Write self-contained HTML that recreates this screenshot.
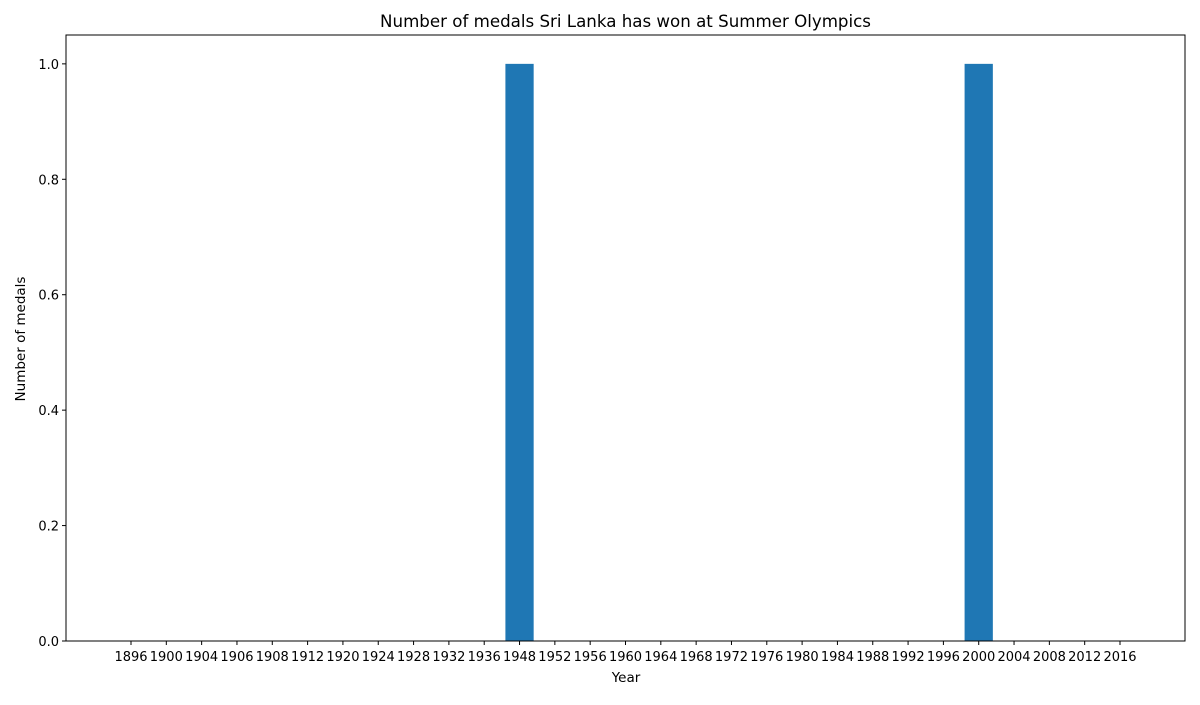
<!DOCTYPE html>
<html><head><meta charset="utf-8"><style>
body{margin:0;background:#fff;}
svg text{font-family:"DejaVu Sans","Liberation Sans",sans-serif;fill:#000;}
</style></head><body>
<svg width="1200" height="700" xmlns="http://www.w3.org/2000/svg">
<rect width="1200" height="700" fill="#fff"/>
<text x="625.5" y="27" font-size="16.67" text-anchor="middle">Number of medals Sri Lanka has won at Summer Olympics</text>
<g id="bars"></g>
<g id="xticks"></g>
<g id="yticks"></g>
<rect x="66" y="35" width="1119" height="606" fill="none" stroke="#000" stroke-width="1"/>
<text x="626" y="682" font-size="13.5" text-anchor="middle">Year</text>
<text x="25" y="339" font-size="13.5" text-anchor="middle" transform="rotate(-90 25 339)">Number of medals</text>
</svg>
<script>
const years = ["1896","1900","1904","1906","1908","1912","1920","1924","1928","1932","1936","1948","1952","1956","1960","1964","1968","1972","1976","1980","1984","1988","1992","1996","2000","2004","2008","2012","2016"];
const medals = [0,0,0,0,0,0,0,0,0,0,0,1,0,0,0,0,0,0,0,0,0,0,0,0,1,0,0,0,0];
const yTicks = [0,0.2,0.4,0.6,0.8,1.0];
const NS="http://www.w3.org/2000/svg";
const L=66,R=1185,T=35,B=641;
const n=years.length;
const xmin=-0.4-(n-1+0.8)*0.05, xmax=n-1+0.4+(n-1+0.8)*0.05;
const ymax=Math.max(...medals)*1.05||1;
const xs=v=>L+(v-xmin)/(xmax-xmin)*(R-L);
const ys=v=>B-v/ymax*(B-T);
const bars=document.getElementById('bars'),xg=document.getElementById('xticks'),yg=document.getElementById('yticks');
function mk(tag,attrs,parent){const e=document.createElementNS(NS,tag);for(const k in attrs)e.setAttribute(k,attrs[k]);parent.appendChild(e);return e;}
years.forEach((y,i)=>{
  const v=medals[i];
  if(v>0){
    const r=mk('rect',{x:xs(i-0.4),y:ys(v),width:xs(i+0.4)-xs(i-0.4),height:ys(0)-ys(v),fill:'#1f77b4'},bars);
    
    
  }
  const x=xs(i);
  const tk=mk('line',{x1:x,x2:x,y1:B,y2:B+4,stroke:'#000'},xg);
  
  
  const t=mk('text',{x:x,y:B+20,'font-size':13,'text-anchor':'middle'},xg);
  t.textContent=y;
  
  
});
yTicks.forEach(v=>{
  const y=ys(v);
  const tk=mk('line',{x1:L-4,x2:L,y1:y,y2:y,stroke:'#000'},yg);
  
  
  const t=mk('text',{x:L-7,y:y+5,'font-size':13,'text-anchor':'end'},yg);
  t.textContent=v.toFixed(1);
  
  
});
</script>
</body></html>
